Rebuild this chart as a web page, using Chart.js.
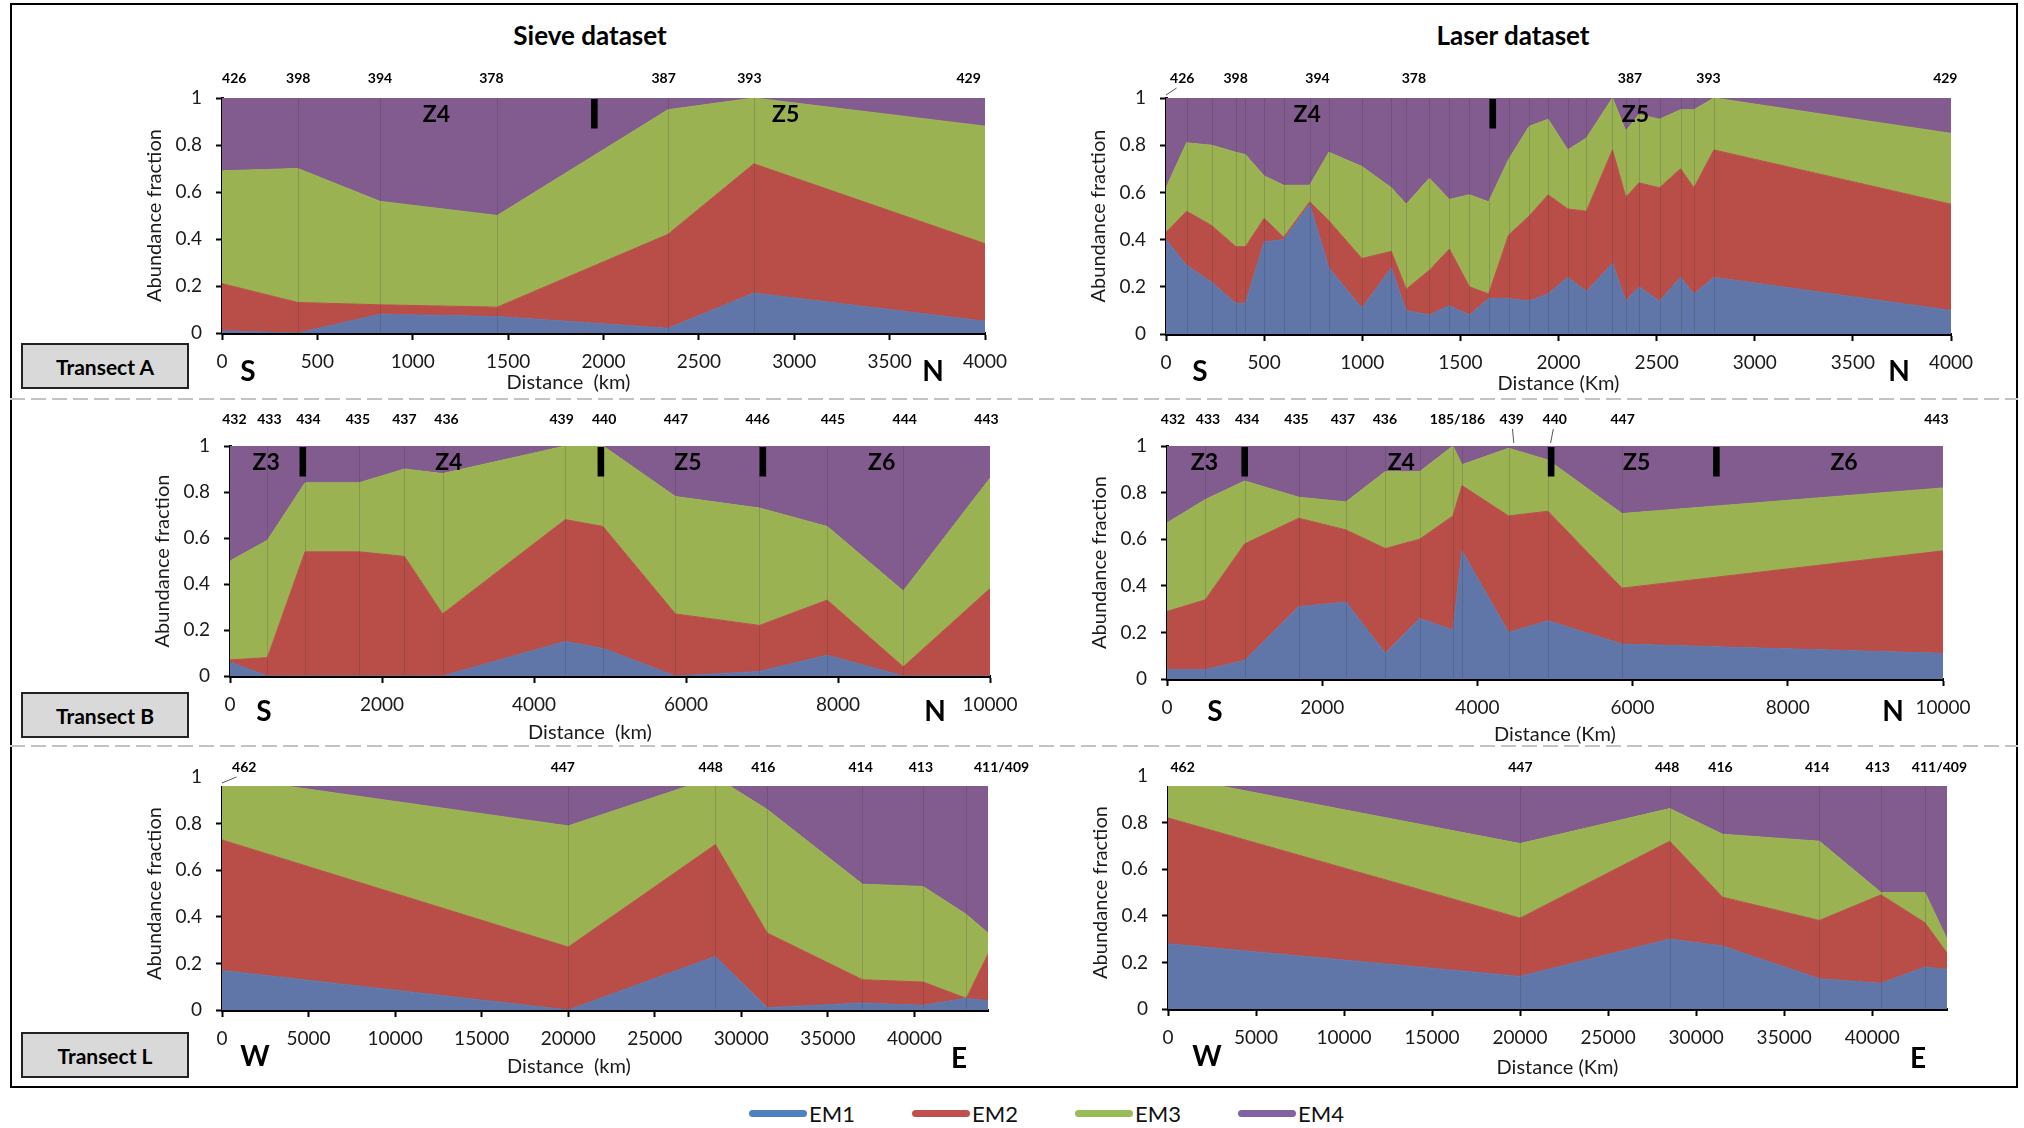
<!DOCTYPE html>
<html>
<head>
<meta charset="utf-8">
<title>End-member abundance along transects</title>
<script src="https://cdn.jsdelivr.net/npm/chart.js@4.4.1/dist/chart.umd.min.js"></script>
<style>
  body { margin: 0; background: #fff; font-family: Lato, "Open Sans", sans-serif; }
  #page { position: relative; width: 2024px; height: 1128px; overflow: hidden; }
  #frame { position: absolute; left: 10px; top: 3px; width: 2008px; height: 1085px; border: 2px solid #000; box-sizing: border-box; }
  .dash { position: absolute; left: 10px; width: 2008px; height: 2px;
          background: repeating-linear-gradient(90deg, #c3c3c3 0 15px, transparent 15px 21px); }
  canvas { position: absolute; }
  .lbl { position: absolute; transform: translate(-50%, -50%); white-space: pre; color: #000; }
  .title { font-weight: 700; font-size: 26px; }
  .dir { font-weight: 700; font-size: 28px; }
  .box { position: absolute; left: 21px; width: 168px; height: 46px; box-sizing: border-box;
         background: #d9d9d9; border: 2px solid #222; font-weight: 700; font-size: 21px;
         display: flex; align-items: center; justify-content: center; }
  .leg { position: absolute; top: 1100px; height: 26px; display: flex; align-items: center; font-size: 22px; color: #111; }
  .leg .bar { width: 58px; height: 7px; border-radius: 4px; margin-right: 2px; }
</style>
</head>
<body>
<div id="page">
  <div id="frame"></div>
  <div class="dash" style="top:398px"></div>
  <div class="dash" style="top:745px"></div>
</div>
<script>
// End members
const emLabels = ["EM1", "EM2", "EM3", "EM4"];
const emFill = ["rgb(97,118,168)", "rgb(185,78,72)", "rgb(155,178,82)", "rgb(131,92,143)"];
const emLegend = ["#4f81bd", "#c0504d", "#9bbb59", "#8064a2"];

// Axis ticks
const ticksY = [0, 0.2, 0.4, 0.6, 0.8, 1];
const ticksA = [0, 500, 1000, 1500, 2000, 2500, 3000, 3500, 4000];
const ticksB = [0, 2000, 4000, 6000, 8000, 10000];
const ticksL = [0, 5000, 10000, 15000, 20000, 25000, 30000, 35000, 40000];

// Transect A - sieve
const sieveA_km = [0, 397, 829, 1443, 2338, 2788, 4000];
const sieveA_em1 = [0.01, 0.00, 0.08, 0.07, 0.02, 0.17, 0.05];
const sieveA_em2 = [0.20, 0.13, 0.04, 0.04, 0.40, 0.55, 0.33];
const sieveA_em3 = [0.48, 0.57, 0.44, 0.39, 0.53, 0.28, 0.50];
const sieveA_em4 = [0.31, 0.30, 0.44, 0.50, 0.05, 0.00, 0.12];

// Transect A - laser
const laserA_km = [0, 105, 232, 356, 405, 500, 600, 732, 830, 998, 1148, 1224, 1342, 1444, 1546,
                   1644, 1746, 1851, 1947, 2047, 2142, 2275, 2343, 2410, 2515, 2622, 2690, 2792, 4000];
const laserA_em1 = [0.40, 0.29, 0.22, 0.13, 0.13, 0.39, 0.40, 0.55, 0.28, 0.11, 0.28, 0.10, 0.08, 0.12, 0.08,
                    0.15, 0.15, 0.14, 0.17, 0.24, 0.18, 0.30, 0.14, 0.20, 0.14, 0.24, 0.17, 0.24, 0.10];
const laserA_em2 = [0.03, 0.23, 0.24, 0.24, 0.24, 0.10, 0.01, 0.01, 0.20, 0.21, 0.07, 0.09, 0.19, 0.24, 0.12,
                    0.02, 0.27, 0.36, 0.42, 0.29, 0.34, 0.48, 0.44, 0.44, 0.48, 0.46, 0.45, 0.54, 0.45];
const laserA_em3 = [0.19, 0.29, 0.34, 0.40, 0.39, 0.18, 0.22, 0.07, 0.29, 0.39, 0.27, 0.36, 0.39, 0.21, 0.39,
                    0.39, 0.32, 0.38, 0.32, 0.25, 0.31, 0.22, 0.28, 0.29, 0.29, 0.25, 0.33, 0.22, 0.30];
const laserA_em4 = [0.38, 0.19, 0.20, 0.23, 0.24, 0.33, 0.37, 0.37, 0.23, 0.29, 0.38, 0.45, 0.34, 0.43, 0.41,
                    0.44, 0.26, 0.12, 0.09, 0.22, 0.17, 0.00, 0.14, 0.07, 0.09, 0.05, 0.05, 0.00, 0.15];

// Transect B - sieve
const sieveB_km = [0, 492, 988, 1699, 2296, 2797, 4412, 4908, 5861, 6967, 7858, 8859, 10000];
const sieveB_em1 = [0.06, 0.00, 0.00, 0.00, 0.00, 0.00, 0.15, 0.12, 0.00, 0.02, 0.09, 0.00, 0.00];
const sieveB_em2 = [0.01, 0.08, 0.54, 0.54, 0.52, 0.27, 0.53, 0.53, 0.27, 0.20, 0.24, 0.04, 0.38];
const sieveB_em3 = [0.43, 0.51, 0.30, 0.30, 0.38, 0.61, 0.32, 0.35, 0.51, 0.51, 0.32, 0.33, 0.48];
const sieveB_em4 = [0.50, 0.41, 0.16, 0.16, 0.10, 0.12, 0.00, 0.00, 0.22, 0.27, 0.35, 0.63, 0.14];

// Transect B - laser
const laserB_km = [0, 494, 1001, 1697, 2306, 2813, 3256, 3685, 3801, 4402, 4909, 5863, 10000];
const laserB_em1 = [0.04, 0.04, 0.08, 0.31, 0.33, 0.11, 0.26, 0.21, 0.55, 0.20, 0.25, 0.15, 0.11];
const laserB_em2 = [0.25, 0.30, 0.50, 0.38, 0.31, 0.45, 0.34, 0.49, 0.28, 0.50, 0.47, 0.24, 0.44];
const laserB_em3 = [0.38, 0.43, 0.27, 0.09, 0.12, 0.33, 0.29, 0.30, 0.09, 0.29, 0.22, 0.32, 0.27];
const laserB_em4 = [0.33, 0.23, 0.15, 0.22, 0.24, 0.11, 0.11, 0.00, 0.08, 0.01, 0.06, 0.29, 0.18];

// Transect L - both datasets share the stations
const transL_km = [0, 20000, 28500, 31500, 37000, 40500, 43000, 44250];
const sieveL_em1 = [0.17, 0.00, 0.23, 0.01, 0.03, 0.02, 0.05, 0.04];
const sieveL_em2 = [0.56, 0.27, 0.48, 0.32, 0.10, 0.10, 0.00, 0.20];
const sieveL_em3 = [0.27, 0.52, 0.29, 0.53, 0.41, 0.41, 0.36, 0.09];
const sieveL_em4 = [0.00, 0.21, 0.00, 0.14, 0.46, 0.47, 0.59, 0.67];
const laserL_em1 = [0.28, 0.14, 0.30, 0.27, 0.13, 0.11, 0.18, 0.17];
const laserL_em2 = [0.54, 0.25, 0.42, 0.21, 0.25, 0.38, 0.19, 0.07];
const laserL_em3 = [0.18, 0.32, 0.14, 0.27, 0.34, 0.01, 0.13, 0.06];
const laserL_em4 = [0.00, 0.29, 0.14, 0.25, 0.28, 0.50, 0.50, 0.70];

// Station names and where their labels sit (km)
const stationsA = ["426", "398", "394", "378", "387", "393", "429"];
const sieveA_labelKm = [64, 400, 828, 1412, 2315, 2765, 3914];
const laserA_labelKm = [83, 355, 772, 1263, 2364, 2764, 3971];
const stationsB_sieve = ["432", "433", "434", "435", "437", "436", "439", "440", "447", "446", "445", "444", "443"];
const sieveB_labelKm = [57, 518, 1032, 1683, 2294, 2848, 4364, 4922, 5867, 6944, 7933, 8878, 9954];
const stationsB_laser = ["432", "433", "434", "435", "437", "436", "185/186", "439", "440", "447", "443"];
const laserB_labelKm = [77, 529, 1032, 1668, 2266, 2808, 3742, 4443, 4997, 5871, 9914];
const stationsL = ["462", "447", "448", "416", "414", "413", "411/409"];
const sieveL_labelKm = [1288, 19688, 28233, 31270, 36894, 40375, 45035];
const laserL_labelKm = [830, 20017, 28352, 31381, 36875, 40318, 43823];

// Zones (label km) and zone boundaries (km)
const zonesA = ["Z4", "Z5"];
const sieveA_zoneKm = [1124, 2955], sieveA_bounds = [1952];
const laserA_zoneKm = [719, 2392], laserA_bounds = [1665];
const zonesB = ["Z3", "Z4", "Z5", "Z6"];
const sieveB_zoneKm = [475, 2879, 6025, 8575], sieveB_bounds = [958, 4880, 7011];
const laserB_zoneKm = [482, 3019, 6052, 8725], laserB_bounds = [1001, 4950, 7080];

Chart.defaults.font.family = "Lato";
Chart.defaults.color = "#1a1a1a";

const page = document.getElementById("page");

const panels = [
  { box: [222, 98, 985, 333], km: sieveA_km, em: [sieveA_em1, sieveA_em2, sieveA_em3, sieveA_em4],
    xMax: 4000, ticks: ticksA, names: stationsA, nameKm: sieveA_labelKm, zones: zonesA, zoneKm: sieveA_zoneKm,
    bounds: sieveA_bounds, leaders: [], xTitle: "Distance  (km)", titleShift: -35, titleGap: 50, labelGap: 20, trim: 0 },
  { box: [1166, 98, 1951, 334], km: laserA_km, em: [laserA_em1, laserA_em2, laserA_em3, laserA_em4],
    xMax: 4000, ticks: ticksA, names: stationsA, nameKm: laserA_labelKm, zones: zonesA, zoneKm: laserA_zoneKm,
    bounds: laserA_bounds, leaders: [[0, 0]], xTitle: "Distance (Km)", titleShift: 0, titleGap: 50, labelGap: 20, trim: 0 },
  { box: [230, 446, 990, 676], km: sieveB_km, em: [sieveB_em1, sieveB_em2, sieveB_em3, sieveB_em4],
    xMax: 10000, ticks: ticksB, names: stationsB_sieve, nameKm: sieveB_labelKm, zones: zonesB, zoneKm: sieveB_zoneKm,
    bounds: sieveB_bounds, leaders: [], xTitle: "Distance  (km)", titleShift: -20, titleGap: 57, labelGap: 27, trim: 0 },
  { box: [1167, 446, 1943, 679], km: laserB_km, em: [laserB_em1, laserB_em2, laserB_em3, laserB_em4],
    xMax: 10000, ticks: ticksB, names: stationsB_laser, nameKm: laserB_labelKm, zones: zonesB, zoneKm: laserB_zoneKm,
    bounds: laserB_bounds, leaders: [[7, 4469], [8, 4943]], xTitle: "Distance (Km)", titleShift: 0, titleGap: 56, labelGap: 27, trim: 0 },
  { box: [222, 777, 988, 1010], km: transL_km, em: [sieveL_em1, sieveL_em2, sieveL_em3, sieveL_em4],
    xMax: 44250, ticks: ticksL, names: stationsL, nameKm: sieveL_labelKm, zones: [], zoneKm: [],
    bounds: [], leaders: [[0, 0]], xTitle: "Distance  (km)", titleShift: -36, titleGap: 57, labelGap: 10, trim: 9 },
  { box: [1168, 776, 1947, 1009], km: transL_km, em: [laserL_em1, laserL_em2, laserL_em3, laserL_em4],
    xMax: 44250, ticks: ticksL, names: stationsL, nameKm: laserL_labelKm, zones: [], zoneKm: [],
    bounds: [], leaders: [], xTitle: "Distance (Km)", titleShift: 0, titleGap: 59, labelGap: 9, trim: 10 }
];

// Station lines, zone marks, station names, axis title
function overlay(p) {
  return {
    id: "overlay",
    afterDatasetsDraw(chart) {
      const ctx = chart.ctx, xs = chart.scales.x, a = chart.chartArea;
      ctx.save();
      if (p.trim) {
        ctx.fillStyle = "#fff";
        ctx.fillRect(a.left - 8, a.top - 3, a.right - a.left + 14, p.trim + 3);
      }
      const top = a.top + p.trim;
      ctx.strokeStyle = "rgba(45,45,45,0.2)";
      ctx.lineWidth = 1;
      p.km.forEach(d => {
        if (d <= 0 || d >= p.xMax) return;
        const x = Math.round(xs.getPixelForValue(d)) + 0.5;
        ctx.beginPath(); ctx.moveTo(x, top); ctx.lineTo(x, a.bottom - 1); ctx.stroke();
      });

      ctx.fillStyle = "#000";
      p.bounds.forEach(d => {
        ctx.fillRect(xs.getPixelForValue(d) - 3.3, a.top + 1, 6.6, 29.5);
      });
      ctx.textAlign = "center";
      ctx.textBaseline = "middle";
      ctx.font = "bold 23px Lato";
      p.zones.forEach((z, i) => ctx.fillText(z, xs.getPixelForValue(p.zoneKm[i]), a.top + 17));

      ctx.font = "bold 14px Lato";
      const ly = a.top - p.labelGap;
      p.names.forEach((s, i) => ctx.fillText(s, xs.getPixelForValue(p.nameKm[i]), ly));

      ctx.strokeStyle = "#555";
      p.leaders.forEach(([i, target]) => {
        const lx = xs.getPixelForValue(p.nameKm[i]);
        const tx = xs.getPixelForValue(target);
        ctx.beginPath();
        ctx.moveTo(lx + (tx - lx) * 0.35, ly + 10);
        ctx.lineTo(tx, top - 3);
        ctx.stroke();
      });

      ctx.font = "20px Lato";
      ctx.fillStyle = "#1a1a1a";
      ctx.fillText(p.xTitle, (a.left + a.right) / 2 + p.titleShift, a.bottom + p.titleGap);
      ctx.restore();
    }
  };
}

function buildPanel(p) {
  const padL = 82, padT = 45, padR = 70, padB = 75;
  const [l, t, r, b] = p.box;
  const w = r - l + padL + padR, h = b - t + padT + padB;
  const cv = document.createElement("canvas");
  cv.width = w; cv.height = h;
  cv.style.left = (l - padL) + "px";
  cv.style.top = (t - padT) + "px";
  cv.style.width = w + "px";
  cv.style.height = h + "px";
  page.appendChild(cv);

  const datasets = p.em.map((vals, k) => ({
    label: emLabels[k],
    data: p.km.map((x, i) => ({ x: x, y: vals[i] })),
    backgroundColor: emFill[k],
    borderColor: emFill[k],
    borderWidth: 1,
    pointRadius: 0,
    pointHoverRadius: 0,
    tension: 0,
    fill: k === 0 ? "origin" : "-1"
  }));

  new Chart(cv, {
    type: "line",
    data: { datasets: datasets },
    options: {
      responsive: false,
      animation: false,
      events: [],
      layout: { padding: { left: 0, top: padT, right: padR, bottom: 0 } },
      plugins: { legend: { display: false }, tooltip: { enabled: false } },
      scales: {
        x: {
          type: "linear", min: 0, max: p.xMax,
          ticks: { font: { size: 19 }, padding: 10, maxRotation: 0, autoSkip: false, callback: v => String(v) },
          grid: { drawOnChartArea: false, tickLength: 7, tickWidth: 2, tickColor: "#000" },
          border: { color: "#000", width: 3 },
          afterBuildTicks: s => { s.ticks = p.ticks.map(v => ({ value: v })); },
          afterFit: s => { s.height = padB; }
        },
        y: {
          stacked: true, min: 0, max: 1,
          ticks: { font: { size: 19 }, padding: 14, callback: v => String(v) },
          grid: { drawOnChartArea: false, tickLength: 6, tickWidth: 2, tickColor: "#000" },
          border: { color: "#000", width: 3 },
          title: { display: true, text: "Abundance fraction", font: { size: 20 }, padding: { top: 3, bottom: 3 } },
          afterBuildTicks: s => { s.ticks = ticksY.map(v => ({ value: v })); },
          afterFit: s => { s.width = padL; }
        }
      }
    },
    plugins: [overlay(p)]
  });
}

panels.forEach(buildPanel);

// Plain text on the page
function tag(text, x, y, cls) {
  const d = document.createElement("div");
  d.className = "lbl " + cls;
  d.textContent = text;
  d.style.left = x + "px";
  d.style.top = y + "px";
  page.appendChild(d);
}
tag("Sieve dataset", 590, 35, "title");
tag("Laser dataset", 1513, 35, "title");

const dirLetters = [["S", 248, 370], ["N", 933, 370], ["S", 1200, 370], ["N", 1899, 370],
                    ["S", 264, 710], ["N", 935, 710], ["S", 1215, 710], ["N", 1893, 710],
                    ["W", 255, 1055], ["E", 959, 1057], ["W", 1207, 1055], ["E", 1918, 1057]];
dirLetters.forEach(([s, x, y]) => tag(s, x, y, "dir"));

[["Transect A", 343], ["Transect B", 692], ["Transect L", 1032]].forEach(([s, y]) => {
  const d = document.createElement("div");
  d.className = "box";
  d.style.top = y + "px";
  d.textContent = s;
  page.appendChild(d);
});

// Legend
emLabels.forEach((name, k) => {
  const d = document.createElement("div");
  d.className = "leg";
  d.style.left = (749 + k * 163) + "px";
  d.innerHTML = '<span class="bar" style="background:' + emLegend[k] + '"></span>' + name;
  page.appendChild(d);
});
</script>
</body>
</html>
